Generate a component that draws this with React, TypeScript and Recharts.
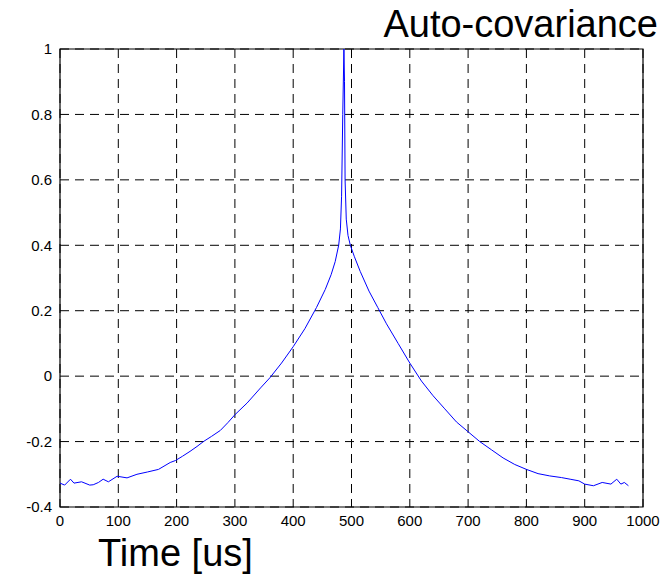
import React from 'react';
import { LineChart, Line, XAxis, YAxis, CartesianGrid, ReferenceArea } from 'recharts';

const timeUs = [0, 8, 18, 24, 37, 51, 57, 66, 74, 83, 98, 115, 132, 150, 169, 189, 198, 210, 223, 235, 246, 260, 275, 288, 300, 321, 344, 360, 380, 400, 420, 440, 455, 465, 472, 478, 481, 483, 485, 487, 488, 489, 491, 494, 498, 505, 515, 530, 545, 560, 580, 600, 620, 640, 660, 680, 700, 720, 740, 760, 780, 800, 820, 840, 860, 875, 890, 900, 915, 930, 945, 955, 962, 968, 975];
const autoCov = [-0.327, -0.333, -0.315, -0.327, -0.323, -0.333, -0.332, -0.325, -0.315, -0.323, -0.306, -0.311, -0.3, -0.293, -0.285, -0.264, -0.258, -0.245, -0.23, -0.215, -0.2, -0.184, -0.166, -0.142, -0.118, -0.082, -0.036, -0.005, 0.04, 0.09, 0.145, 0.21, 0.265, 0.31, 0.35, 0.4, 0.45, 0.55, 0.8, 1.0, 0.9, 0.6, 0.48, 0.43, 0.4, 0.365, 0.32, 0.26, 0.21, 0.16, 0.1, 0.04, -0.015, -0.06, -0.1, -0.14, -0.17, -0.2, -0.225, -0.25, -0.27, -0.285, -0.298, -0.305, -0.31, -0.315, -0.32, -0.33, -0.335, -0.325, -0.33, -0.315, -0.33, -0.325, -0.335];
const xTicks = [0, 100, 200, 300, 400, 500, 600, 700, 800, 900, 1000];
const yTicks = [-0.4, -0.2, 0, 0.2, 0.4, 0.6, 0.8, 1];

const data = timeUs.map((t, i) => ({ t, v: autoCov[i] }));
const FONT = 'Arial, "Liberation Sans", Helvetica, sans-serif';

export default function App() {
  return (
    <div style={{ position: 'absolute', left: 0, top: 0, width: 670, height: 576, background: '#fff' }}>
      <LineChart width={670} height={576} data={data} margin={{ top: 49, right: 27, bottom: 39, left: 0 }}>
        <CartesianGrid stroke="#000" strokeDasharray="9 6" strokeWidth={1} horizontalValues={yTicks} verticalValues={xTicks} />
        <XAxis
          dataKey="t"
          type="number"
          domain={[0, 1000]}
          ticks={xTicks}
          height={30}
          tickLine={false}
          axisLine={false}
          interval={0}
          tick={{ fill: '#000', fontSize: 15, fontFamily: FONT }}
        />
        <YAxis
          type="number"
          domain={[-0.4, 1]}
          ticks={yTicks}
          width={60}
          tickLine={false}
          axisLine={false}
          interval={0}
          tickFormatter={(v: number) => String(Math.round(v * 10) / 10)}
          tick={{ fill: '#000', fontSize: 15, fontFamily: FONT }}
        />
        <ReferenceArea x1={0} x2={1000} y1={-0.4} y2={1} fill="none" stroke="#000" strokeWidth={1.2} ifOverflow="visible" />
        <Line dataKey="v" type="linear" stroke="#0000ff" strokeWidth={1} dot={false} isAnimationActive={false} />
      </LineChart>
      <svg width={670} height={576} style={{ position: 'absolute', left: 0, top: 0, pointerEvents: 'none' }}>
        <text x={658} y={37} textAnchor="end" fontFamily={FONT} fontSize={38} fill="#000">Auto-covariance</text>
        <text x={98} y={566} textAnchor="start" fontFamily={FONT} fontSize={38} fill="#000">Time [us]</text>
      </svg>
    </div>
  );
}
